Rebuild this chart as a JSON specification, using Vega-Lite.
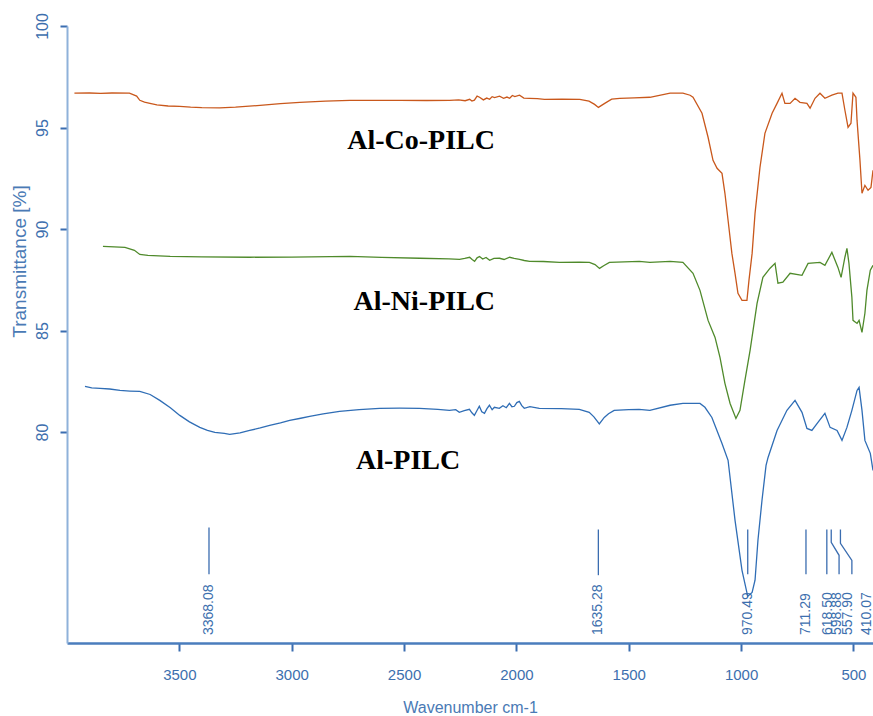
{
  "$schema": "https://vega.github.io/schema/vega-lite/v6.json",
  "width": 806,
  "height": 617,
  "autosize": "none",
  "padding": {"left": 67, "top": 26, "right": 0, "bottom": 73},
  "background": "white",
  "config": {"view": {"stroke": null}, "font": "Liberation Sans"},
  "datasets": {
    "spectra": [
      {"sample": "Al-Co-PILC", "wavenumber": 3967, "transmittance": 96.69},
      {"sample": "Al-Co-PILC", "wavenumber": 3900, "transmittance": 96.70},
      {"sample": "Al-Co-PILC", "wavenumber": 3850, "transmittance": 96.68},
      {"sample": "Al-Co-PILC", "wavenumber": 3800, "transmittance": 96.70},
      {"sample": "Al-Co-PILC", "wavenumber": 3722, "transmittance": 96.69},
      {"sample": "Al-Co-PILC", "wavenumber": 3690, "transmittance": 96.55},
      {"sample": "Al-Co-PILC", "wavenumber": 3676, "transmittance": 96.34},
      {"sample": "Al-Co-PILC", "wavenumber": 3655, "transmittance": 96.25},
      {"sample": "Al-Co-PILC", "wavenumber": 3631, "transmittance": 96.19},
      {"sample": "Al-Co-PILC", "wavenumber": 3600, "transmittance": 96.12},
      {"sample": "Al-Co-PILC", "wavenumber": 3550, "transmittance": 96.06},
      {"sample": "Al-Co-PILC", "wavenumber": 3498, "transmittance": 96.04},
      {"sample": "Al-Co-PILC", "wavenumber": 3450, "transmittance": 96.00},
      {"sample": "Al-Co-PILC", "wavenumber": 3400, "transmittance": 95.98},
      {"sample": "Al-Co-PILC", "wavenumber": 3320, "transmittance": 95.97},
      {"sample": "Al-Co-PILC", "wavenumber": 3250, "transmittance": 96.00},
      {"sample": "Al-Co-PILC", "wavenumber": 3141, "transmittance": 96.09},
      {"sample": "Al-Co-PILC", "wavenumber": 3050, "transmittance": 96.18},
      {"sample": "Al-Co-PILC", "wavenumber": 2964, "transmittance": 96.24},
      {"sample": "Al-Co-PILC", "wavenumber": 2850, "transmittance": 96.30},
      {"sample": "Al-Co-PILC", "wavenumber": 2741, "transmittance": 96.34},
      {"sample": "Al-Co-PILC", "wavenumber": 2650, "transmittance": 96.34},
      {"sample": "Al-Co-PILC", "wavenumber": 2519, "transmittance": 96.34},
      {"sample": "Al-Co-PILC", "wavenumber": 2400, "transmittance": 96.33},
      {"sample": "Al-Co-PILC", "wavenumber": 2297, "transmittance": 96.34},
      {"sample": "Al-Co-PILC", "wavenumber": 2257, "transmittance": 96.36},
      {"sample": "Al-Co-PILC", "wavenumber": 2228, "transmittance": 96.32},
      {"sample": "Al-Co-PILC", "wavenumber": 2208, "transmittance": 96.39},
      {"sample": "Al-Co-PILC", "wavenumber": 2198, "transmittance": 96.30},
      {"sample": "Al-Co-PILC", "wavenumber": 2187, "transmittance": 96.35},
      {"sample": "Al-Co-PILC", "wavenumber": 2175, "transmittance": 96.55},
      {"sample": "Al-Co-PILC", "wavenumber": 2164, "transmittance": 96.49},
      {"sample": "Al-Co-PILC", "wavenumber": 2147, "transmittance": 96.36},
      {"sample": "Al-Co-PILC", "wavenumber": 2132, "transmittance": 96.45},
      {"sample": "Al-Co-PILC", "wavenumber": 2119, "transmittance": 96.39},
      {"sample": "Al-Co-PILC", "wavenumber": 2108, "transmittance": 96.52},
      {"sample": "Al-Co-PILC", "wavenumber": 2097, "transmittance": 96.47},
      {"sample": "Al-Co-PILC", "wavenumber": 2075, "transmittance": 96.54},
      {"sample": "Al-Co-PILC", "wavenumber": 2057, "transmittance": 96.44},
      {"sample": "Al-Co-PILC", "wavenumber": 2042, "transmittance": 96.50},
      {"sample": "Al-Co-PILC", "wavenumber": 2030, "transmittance": 96.44},
      {"sample": "Al-Co-PILC", "wavenumber": 2018, "transmittance": 96.58},
      {"sample": "Al-Co-PILC", "wavenumber": 2007, "transmittance": 96.52},
      {"sample": "Al-Co-PILC", "wavenumber": 1986, "transmittance": 96.59},
      {"sample": "Al-Co-PILC", "wavenumber": 1967, "transmittance": 96.45},
      {"sample": "Al-Co-PILC", "wavenumber": 1941, "transmittance": 96.44},
      {"sample": "Al-Co-PILC", "wavenumber": 1907, "transmittance": 96.42},
      {"sample": "Al-Co-PILC", "wavenumber": 1875, "transmittance": 96.39},
      {"sample": "Al-Co-PILC", "wavenumber": 1797, "transmittance": 96.40},
      {"sample": "Al-Co-PILC", "wavenumber": 1718, "transmittance": 96.39},
      {"sample": "Al-Co-PILC", "wavenumber": 1677, "transmittance": 96.30},
      {"sample": "Al-Co-PILC", "wavenumber": 1652, "transmittance": 96.14},
      {"sample": "Al-Co-PILC", "wavenumber": 1635, "transmittance": 95.99},
      {"sample": "Al-Co-PILC", "wavenumber": 1607, "transmittance": 96.19},
      {"sample": "Al-Co-PILC", "wavenumber": 1576, "transmittance": 96.40},
      {"sample": "Al-Co-PILC", "wavenumber": 1540, "transmittance": 96.44},
      {"sample": "Al-Co-PILC", "wavenumber": 1476, "transmittance": 96.46},
      {"sample": "Al-Co-PILC", "wavenumber": 1406, "transmittance": 96.49},
      {"sample": "Al-Co-PILC", "wavenumber": 1316, "transmittance": 96.69},
      {"sample": "Al-Co-PILC", "wavenumber": 1259, "transmittance": 96.69},
      {"sample": "Al-Co-PILC", "wavenumber": 1227, "transmittance": 96.59},
      {"sample": "Al-Co-PILC", "wavenumber": 1214, "transmittance": 96.49},
      {"sample": "Al-Co-PILC", "wavenumber": 1174, "transmittance": 95.70},
      {"sample": "Al-Co-PILC", "wavenumber": 1147, "transmittance": 94.52},
      {"sample": "Al-Co-PILC", "wavenumber": 1125, "transmittance": 93.38},
      {"sample": "Al-Co-PILC", "wavenumber": 1107, "transmittance": 92.99},
      {"sample": "Al-Co-PILC", "wavenumber": 1085, "transmittance": 92.74},
      {"sample": "Al-Co-PILC", "wavenumber": 1072, "transmittance": 91.76},
      {"sample": "Al-Co-PILC", "wavenumber": 1058, "transmittance": 90.43},
      {"sample": "Al-Co-PILC", "wavenumber": 1041, "transmittance": 88.80},
      {"sample": "Al-Co-PILC", "wavenumber": 1027, "transmittance": 87.82},
      {"sample": "Al-Co-PILC", "wavenumber": 1014, "transmittance": 86.83},
      {"sample": "Al-Co-PILC", "wavenumber": 996, "transmittance": 86.49},
      {"sample": "Al-Co-PILC", "wavenumber": 974, "transmittance": 86.49},
      {"sample": "Al-Co-PILC", "wavenumber": 965, "transmittance": 87.47},
      {"sample": "Al-Co-PILC", "wavenumber": 951, "transmittance": 88.80},
      {"sample": "Al-Co-PILC", "wavenumber": 938, "transmittance": 90.77},
      {"sample": "Al-Co-PILC", "wavenumber": 916, "transmittance": 93.04},
      {"sample": "Al-Co-PILC", "wavenumber": 894, "transmittance": 94.71},
      {"sample": "Al-Co-PILC", "wavenumber": 862, "transmittance": 95.70},
      {"sample": "Al-Co-PILC", "wavenumber": 840, "transmittance": 96.19},
      {"sample": "Al-Co-PILC", "wavenumber": 818, "transmittance": 96.69},
      {"sample": "Al-Co-PILC", "wavenumber": 805, "transmittance": 96.19},
      {"sample": "Al-Co-PILC", "wavenumber": 782, "transmittance": 96.19},
      {"sample": "Al-Co-PILC", "wavenumber": 760, "transmittance": 96.44},
      {"sample": "Al-Co-PILC", "wavenumber": 738, "transmittance": 96.24},
      {"sample": "Al-Co-PILC", "wavenumber": 707, "transmittance": 96.19},
      {"sample": "Al-Co-PILC", "wavenumber": 693, "transmittance": 95.95},
      {"sample": "Al-Co-PILC", "wavenumber": 671, "transmittance": 96.44},
      {"sample": "Al-Co-PILC", "wavenumber": 649, "transmittance": 96.69},
      {"sample": "Al-Co-PILC", "wavenumber": 627, "transmittance": 96.44},
      {"sample": "Al-Co-PILC", "wavenumber": 596, "transmittance": 96.59},
      {"sample": "Al-Co-PILC", "wavenumber": 569, "transmittance": 96.69},
      {"sample": "Al-Co-PILC", "wavenumber": 551, "transmittance": 96.69},
      {"sample": "Al-Co-PILC", "wavenumber": 538, "transmittance": 95.85},
      {"sample": "Al-Co-PILC", "wavenumber": 524, "transmittance": 95.01},
      {"sample": "Al-Co-PILC", "wavenumber": 511, "transmittance": 95.21},
      {"sample": "Al-Co-PILC", "wavenumber": 502, "transmittance": 96.69},
      {"sample": "Al-Co-PILC", "wavenumber": 489, "transmittance": 96.49},
      {"sample": "Al-Co-PILC", "wavenumber": 484, "transmittance": 95.35},
      {"sample": "Al-Co-PILC", "wavenumber": 471, "transmittance": 93.38},
      {"sample": "Al-Co-PILC", "wavenumber": 462, "transmittance": 91.76},
      {"sample": "Al-Co-PILC", "wavenumber": 449, "transmittance": 92.15},
      {"sample": "Al-Co-PILC", "wavenumber": 435, "transmittance": 91.91},
      {"sample": "Al-Co-PILC", "wavenumber": 422, "transmittance": 92.05},
      {"sample": "Al-Co-PILC", "wavenumber": 413, "transmittance": 92.89},

      {"sample": "Al-Ni-PILC", "wavenumber": 3840, "transmittance": 89.15},
      {"sample": "Al-Ni-PILC", "wavenumber": 3790, "transmittance": 89.12},
      {"sample": "Al-Ni-PILC", "wavenumber": 3742, "transmittance": 89.10},
      {"sample": "Al-Ni-PILC", "wavenumber": 3700, "transmittance": 88.95},
      {"sample": "Al-Ni-PILC", "wavenumber": 3676, "transmittance": 88.75},
      {"sample": "Al-Ni-PILC", "wavenumber": 3640, "transmittance": 88.70},
      {"sample": "Al-Ni-PILC", "wavenumber": 3541, "transmittance": 88.65},
      {"sample": "Al-Ni-PILC", "wavenumber": 3400, "transmittance": 88.63},
      {"sample": "Al-Ni-PILC", "wavenumber": 3186, "transmittance": 88.61},
      {"sample": "Al-Ni-PILC", "wavenumber": 3000, "transmittance": 88.62},
      {"sample": "Al-Ni-PILC", "wavenumber": 2741, "transmittance": 88.65},
      {"sample": "Al-Ni-PILC", "wavenumber": 2600, "transmittance": 88.60},
      {"sample": "Al-Ni-PILC", "wavenumber": 2430, "transmittance": 88.56},
      {"sample": "Al-Ni-PILC", "wavenumber": 2300, "transmittance": 88.53},
      {"sample": "Al-Ni-PILC", "wavenumber": 2253, "transmittance": 88.51},
      {"sample": "Al-Ni-PILC", "wavenumber": 2230, "transmittance": 88.55},
      {"sample": "Al-Ni-PILC", "wavenumber": 2208, "transmittance": 88.61},
      {"sample": "Al-Ni-PILC", "wavenumber": 2197, "transmittance": 88.50},
      {"sample": "Al-Ni-PILC", "wavenumber": 2186, "transmittance": 88.41},
      {"sample": "Al-Ni-PILC", "wavenumber": 2175, "transmittance": 88.58},
      {"sample": "Al-Ni-PILC", "wavenumber": 2164, "transmittance": 88.65},
      {"sample": "Al-Ni-PILC", "wavenumber": 2150, "transmittance": 88.52},
      {"sample": "Al-Ni-PILC", "wavenumber": 2135, "transmittance": 88.60},
      {"sample": "Al-Ni-PILC", "wavenumber": 2119, "transmittance": 88.46},
      {"sample": "Al-Ni-PILC", "wavenumber": 2100, "transmittance": 88.55},
      {"sample": "Al-Ni-PILC", "wavenumber": 2075, "transmittance": 88.56},
      {"sample": "Al-Ni-PILC", "wavenumber": 2055, "transmittance": 88.50},
      {"sample": "Al-Ni-PILC", "wavenumber": 2030, "transmittance": 88.61},
      {"sample": "Al-Ni-PILC", "wavenumber": 2010, "transmittance": 88.55},
      {"sample": "Al-Ni-PILC", "wavenumber": 1986, "transmittance": 88.51},
      {"sample": "Al-Ni-PILC", "wavenumber": 1965, "transmittance": 88.45},
      {"sample": "Al-Ni-PILC", "wavenumber": 1941, "transmittance": 88.41},
      {"sample": "Al-Ni-PILC", "wavenumber": 1880, "transmittance": 88.40},
      {"sample": "Al-Ni-PILC", "wavenumber": 1808, "transmittance": 88.36},
      {"sample": "Al-Ni-PILC", "wavenumber": 1720, "transmittance": 88.37},
      {"sample": "Al-Ni-PILC", "wavenumber": 1675, "transmittance": 88.36},
      {"sample": "Al-Ni-PILC", "wavenumber": 1650, "transmittance": 88.25},
      {"sample": "Al-Ni-PILC", "wavenumber": 1630, "transmittance": 88.06},
      {"sample": "Al-Ni-PILC", "wavenumber": 1610, "transmittance": 88.20},
      {"sample": "Al-Ni-PILC", "wavenumber": 1586, "transmittance": 88.36},
      {"sample": "Al-Ni-PILC", "wavenumber": 1520, "transmittance": 88.38},
      {"sample": "Al-Ni-PILC", "wavenumber": 1453, "transmittance": 88.41},
      {"sample": "Al-Ni-PILC", "wavenumber": 1406, "transmittance": 88.36},
      {"sample": "Al-Ni-PILC", "wavenumber": 1316, "transmittance": 88.41},
      {"sample": "Al-Ni-PILC", "wavenumber": 1259, "transmittance": 88.36},
      {"sample": "Al-Ni-PILC", "wavenumber": 1214, "transmittance": 87.82},
      {"sample": "Al-Ni-PILC", "wavenumber": 1183, "transmittance": 86.98},
      {"sample": "Al-Ni-PILC", "wavenumber": 1147, "transmittance": 85.50},
      {"sample": "Al-Ni-PILC", "wavenumber": 1116, "transmittance": 84.66},
      {"sample": "Al-Ni-PILC", "wavenumber": 1094, "transmittance": 83.68},
      {"sample": "Al-Ni-PILC", "wavenumber": 1072, "transmittance": 82.40},
      {"sample": "Al-Ni-PILC", "wavenumber": 1049, "transmittance": 81.41},
      {"sample": "Al-Ni-PILC", "wavenumber": 1023, "transmittance": 80.67},
      {"sample": "Al-Ni-PILC", "wavenumber": 1005, "transmittance": 81.07},
      {"sample": "Al-Ni-PILC", "wavenumber": 983, "transmittance": 82.55},
      {"sample": "Al-Ni-PILC", "wavenumber": 960, "transmittance": 84.02},
      {"sample": "Al-Ni-PILC", "wavenumber": 929, "transmittance": 86.34},
      {"sample": "Al-Ni-PILC", "wavenumber": 903, "transmittance": 87.62},
      {"sample": "Al-Ni-PILC", "wavenumber": 871, "transmittance": 88.07},
      {"sample": "Al-Ni-PILC", "wavenumber": 849, "transmittance": 88.31},
      {"sample": "Al-Ni-PILC", "wavenumber": 836, "transmittance": 87.33},
      {"sample": "Al-Ni-PILC", "wavenumber": 814, "transmittance": 87.38},
      {"sample": "Al-Ni-PILC", "wavenumber": 782, "transmittance": 87.82},
      {"sample": "Al-Ni-PILC", "wavenumber": 729, "transmittance": 87.72},
      {"sample": "Al-Ni-PILC", "wavenumber": 702, "transmittance": 88.31},
      {"sample": "Al-Ni-PILC", "wavenumber": 649, "transmittance": 88.36},
      {"sample": "Al-Ni-PILC", "wavenumber": 627, "transmittance": 88.21},
      {"sample": "Al-Ni-PILC", "wavenumber": 596, "transmittance": 88.85},
      {"sample": "Al-Ni-PILC", "wavenumber": 569, "transmittance": 88.11},
      {"sample": "Al-Ni-PILC", "wavenumber": 555, "transmittance": 87.62},
      {"sample": "Al-Ni-PILC", "wavenumber": 538, "transmittance": 88.61},
      {"sample": "Al-Ni-PILC", "wavenumber": 529, "transmittance": 89.05},
      {"sample": "Al-Ni-PILC", "wavenumber": 520, "transmittance": 88.31},
      {"sample": "Al-Ni-PILC", "wavenumber": 507, "transmittance": 86.64},
      {"sample": "Al-Ni-PILC", "wavenumber": 502, "transmittance": 85.50},
      {"sample": "Al-Ni-PILC", "wavenumber": 484, "transmittance": 85.35},
      {"sample": "Al-Ni-PILC", "wavenumber": 475, "transmittance": 85.50},
      {"sample": "Al-Ni-PILC", "wavenumber": 462, "transmittance": 84.91},
      {"sample": "Al-Ni-PILC", "wavenumber": 449, "transmittance": 85.85},
      {"sample": "Al-Ni-PILC", "wavenumber": 440, "transmittance": 86.98},
      {"sample": "Al-Ni-PILC", "wavenumber": 425, "transmittance": 87.97},
      {"sample": "Al-Ni-PILC", "wavenumber": 413, "transmittance": 88.21},

      {"sample": "Al-PILC", "wavenumber": 3920, "transmittance": 82.25},
      {"sample": "Al-PILC", "wavenumber": 3890, "transmittance": 82.18},
      {"sample": "Al-PILC", "wavenumber": 3853, "transmittance": 82.15},
      {"sample": "Al-PILC", "wavenumber": 3810, "transmittance": 82.12},
      {"sample": "Al-PILC", "wavenumber": 3764, "transmittance": 82.05},
      {"sample": "Al-PILC", "wavenumber": 3720, "transmittance": 82.02},
      {"sample": "Al-PILC", "wavenumber": 3676, "transmittance": 82.00},
      {"sample": "Al-PILC", "wavenumber": 3630, "transmittance": 81.85},
      {"sample": "Al-PILC", "wavenumber": 3587, "transmittance": 81.56},
      {"sample": "Al-PILC", "wavenumber": 3540, "transmittance": 81.20},
      {"sample": "Al-PILC", "wavenumber": 3498, "transmittance": 80.82},
      {"sample": "Al-PILC", "wavenumber": 3455, "transmittance": 80.50},
      {"sample": "Al-PILC", "wavenumber": 3409, "transmittance": 80.23},
      {"sample": "Al-PILC", "wavenumber": 3375, "transmittance": 80.08},
      {"sample": "Al-PILC", "wavenumber": 3342, "transmittance": 79.98},
      {"sample": "Al-PILC", "wavenumber": 3300, "transmittance": 79.93},
      {"sample": "Al-PILC", "wavenumber": 3276, "transmittance": 79.89},
      {"sample": "Al-PILC", "wavenumber": 3230, "transmittance": 79.96},
      {"sample": "Al-PILC", "wavenumber": 3187, "transmittance": 80.08},
      {"sample": "Al-PILC", "wavenumber": 3140, "transmittance": 80.20},
      {"sample": "Al-PILC", "wavenumber": 3098, "transmittance": 80.33},
      {"sample": "Al-PILC", "wavenumber": 3050, "transmittance": 80.45},
      {"sample": "Al-PILC", "wavenumber": 3009, "transmittance": 80.58},
      {"sample": "Al-PILC", "wavenumber": 2960, "transmittance": 80.68},
      {"sample": "Al-PILC", "wavenumber": 2920, "transmittance": 80.77},
      {"sample": "Al-PILC", "wavenumber": 2860, "transmittance": 80.90},
      {"sample": "Al-PILC", "wavenumber": 2787, "transmittance": 81.02},
      {"sample": "Al-PILC", "wavenumber": 2700, "transmittance": 81.10},
      {"sample": "Al-PILC", "wavenumber": 2609, "transmittance": 81.17},
      {"sample": "Al-PILC", "wavenumber": 2520, "transmittance": 81.18},
      {"sample": "Al-PILC", "wavenumber": 2431, "transmittance": 81.17},
      {"sample": "Al-PILC", "wavenumber": 2350, "transmittance": 81.12},
      {"sample": "Al-PILC", "wavenumber": 2298, "transmittance": 81.07},
      {"sample": "Al-PILC", "wavenumber": 2270, "transmittance": 81.10},
      {"sample": "Al-PILC", "wavenumber": 2254, "transmittance": 80.97},
      {"sample": "Al-PILC", "wavenumber": 2232, "transmittance": 81.05},
      {"sample": "Al-PILC", "wavenumber": 2209, "transmittance": 81.12},
      {"sample": "Al-PILC", "wavenumber": 2198, "transmittance": 80.95},
      {"sample": "Al-PILC", "wavenumber": 2187, "transmittance": 80.82},
      {"sample": "Al-PILC", "wavenumber": 2176, "transmittance": 81.05},
      {"sample": "Al-PILC", "wavenumber": 2165, "transmittance": 81.27},
      {"sample": "Al-PILC", "wavenumber": 2154, "transmittance": 81.00},
      {"sample": "Al-PILC", "wavenumber": 2142, "transmittance": 80.92},
      {"sample": "Al-PILC", "wavenumber": 2131, "transmittance": 81.15},
      {"sample": "Al-PILC", "wavenumber": 2120, "transmittance": 81.32},
      {"sample": "Al-PILC", "wavenumber": 2108, "transmittance": 81.10},
      {"sample": "Al-PILC", "wavenumber": 2098, "transmittance": 81.22},
      {"sample": "Al-PILC", "wavenumber": 2076, "transmittance": 81.17},
      {"sample": "Al-PILC", "wavenumber": 2060, "transmittance": 81.30},
      {"sample": "Al-PILC", "wavenumber": 2045, "transmittance": 81.20},
      {"sample": "Al-PILC", "wavenumber": 2031, "transmittance": 81.41},
      {"sample": "Al-PILC", "wavenumber": 2020, "transmittance": 81.25},
      {"sample": "Al-PILC", "wavenumber": 2009, "transmittance": 81.27},
      {"sample": "Al-PILC", "wavenumber": 1998, "transmittance": 81.45},
      {"sample": "Al-PILC", "wavenumber": 1987, "transmittance": 81.51},
      {"sample": "Al-PILC", "wavenumber": 1976, "transmittance": 81.30},
      {"sample": "Al-PILC", "wavenumber": 1965, "transmittance": 81.17},
      {"sample": "Al-PILC", "wavenumber": 1940, "transmittance": 81.25},
      {"sample": "Al-PILC", "wavenumber": 1898, "transmittance": 81.17},
      {"sample": "Al-PILC", "wavenumber": 1800, "transmittance": 81.15},
      {"sample": "Al-PILC", "wavenumber": 1720, "transmittance": 81.12},
      {"sample": "Al-PILC", "wavenumber": 1676, "transmittance": 80.97},
      {"sample": "Al-PILC", "wavenumber": 1655, "transmittance": 80.75},
      {"sample": "Al-PILC", "wavenumber": 1631, "transmittance": 80.40},
      {"sample": "Al-PILC", "wavenumber": 1609, "transmittance": 80.72},
      {"sample": "Al-PILC", "wavenumber": 1590, "transmittance": 80.90},
      {"sample": "Al-PILC", "wavenumber": 1565, "transmittance": 81.07},
      {"sample": "Al-PILC", "wavenumber": 1500, "transmittance": 81.10},
      {"sample": "Al-PILC", "wavenumber": 1454, "transmittance": 81.12},
      {"sample": "Al-PILC", "wavenumber": 1406, "transmittance": 81.07},
      {"sample": "Al-PILC", "wavenumber": 1316, "transmittance": 81.32},
      {"sample": "Al-PILC", "wavenumber": 1259, "transmittance": 81.41},
      {"sample": "Al-PILC", "wavenumber": 1183, "transmittance": 81.41},
      {"sample": "Al-PILC", "wavenumber": 1161, "transmittance": 81.22},
      {"sample": "Al-PILC", "wavenumber": 1130, "transmittance": 80.72},
      {"sample": "Al-PILC", "wavenumber": 1085, "transmittance": 79.44},
      {"sample": "Al-PILC", "wavenumber": 1058, "transmittance": 78.61},
      {"sample": "Al-PILC", "wavenumber": 1027, "transmittance": 75.65},
      {"sample": "Al-PILC", "wavenumber": 996, "transmittance": 73.19},
      {"sample": "Al-PILC", "wavenumber": 970.49, "transmittance": 71.91},
      {"sample": "Al-PILC", "wavenumber": 951, "transmittance": 72.10},
      {"sample": "Al-PILC", "wavenumber": 938, "transmittance": 72.70},
      {"sample": "Al-PILC", "wavenumber": 925, "transmittance": 74.67},
      {"sample": "Al-PILC", "wavenumber": 907, "transmittance": 76.64},
      {"sample": "Al-PILC", "wavenumber": 889, "transmittance": 78.36},
      {"sample": "Al-PILC", "wavenumber": 880, "transmittance": 78.75},
      {"sample": "Al-PILC", "wavenumber": 840, "transmittance": 80.08},
      {"sample": "Al-PILC", "wavenumber": 796, "transmittance": 81.07},
      {"sample": "Al-PILC", "wavenumber": 760, "transmittance": 81.56},
      {"sample": "Al-PILC", "wavenumber": 729, "transmittance": 80.97},
      {"sample": "Al-PILC", "wavenumber": 707, "transmittance": 80.18},
      {"sample": "Al-PILC", "wavenumber": 685, "transmittance": 80.08},
      {"sample": "Al-PILC", "wavenumber": 658, "transmittance": 80.48},
      {"sample": "Al-PILC", "wavenumber": 627, "transmittance": 80.92},
      {"sample": "Al-PILC", "wavenumber": 604, "transmittance": 80.23},
      {"sample": "Al-PILC", "wavenumber": 573, "transmittance": 80.08},
      {"sample": "Al-PILC", "wavenumber": 551, "transmittance": 79.59},
      {"sample": "Al-PILC", "wavenumber": 529, "transmittance": 80.23},
      {"sample": "Al-PILC", "wavenumber": 507, "transmittance": 81.07},
      {"sample": "Al-PILC", "wavenumber": 484, "transmittance": 82.05},
      {"sample": "Al-PILC", "wavenumber": 475, "transmittance": 82.20},
      {"sample": "Al-PILC", "wavenumber": 462, "transmittance": 81.07},
      {"sample": "Al-PILC", "wavenumber": 449, "transmittance": 79.59},
      {"sample": "Al-PILC", "wavenumber": 425, "transmittance": 78.95},
      {"sample": "Al-PILC", "wavenumber": 413, "transmittance": 78.11}
    ],
    "leaders": [
      {"peak": "3368.08", "seq": 1, "wavenumber": 3368.08, "transmittance": 75.3},
      {"peak": "3368.08", "seq": 2, "wavenumber": 3368.08, "transmittance": 73.0},
      {"peak": "1635.28", "seq": 1, "wavenumber": 1635.28, "transmittance": 75.2},
      {"peak": "1635.28", "seq": 2, "wavenumber": 1635.28, "transmittance": 72.95},
      {"peak": "970.49", "seq": 1, "wavenumber": 970.49, "transmittance": 75.2},
      {"peak": "970.49", "seq": 2, "wavenumber": 970.49, "transmittance": 73.0},
      {"peak": "711.29", "seq": 1, "wavenumber": 711.29, "transmittance": 75.2},
      {"peak": "711.29", "seq": 2, "wavenumber": 711.29, "transmittance": 73.0},
      {"peak": "618.50", "seq": 1, "wavenumber": 618.5, "transmittance": 75.2},
      {"peak": "618.50", "seq": 2, "wavenumber": 618.5, "transmittance": 73.0},
      {"peak": "598.88", "seq": 1, "wavenumber": 598.88, "transmittance": 75.2},
      {"peak": "598.88", "seq": 2, "wavenumber": 598.88, "transmittance": 74.57},
      {"peak": "598.88", "seq": 3, "wavenumber": 564, "transmittance": 73.93},
      {"peak": "598.88", "seq": 4, "wavenumber": 564, "transmittance": 73.0},
      {"peak": "557.90", "seq": 1, "wavenumber": 557.9, "transmittance": 75.2},
      {"peak": "557.90", "seq": 2, "wavenumber": 557.9, "transmittance": 74.52},
      {"peak": "557.90", "seq": 3, "wavenumber": 507, "transmittance": 73.68},
      {"peak": "557.90", "seq": 4, "wavenumber": 507, "transmittance": 73.0},
      {"peak": "410.07", "seq": 1, "wavenumber": 410.07, "transmittance": 75.2},
      {"peak": "410.07", "seq": 2, "wavenumber": 410.07, "transmittance": 73.0}
    ],
    "peakLabels": [
      {"peak": "3368.08", "labelAt": 3368.08},
      {"peak": "1635.28", "labelAt": 1635.28},
      {"peak": "970.49", "labelAt": 968},
      {"peak": "711.29", "labelAt": 711.29},
      {"peak": "618.50", "labelAt": 614},
      {"peak": "598.88", "labelAt": 573},
      {"peak": "557.90", "labelAt": 524},
      {"peak": "410.07", "labelAt": 438}
    ],
    "sampleLabels": [
      {"sample": "Al-Co-PILC", "wavenumber": 2424, "transmittance": 93.93},
      {"sample": "Al-Ni-PILC", "wavenumber": 2410, "transmittance": 85.99},
      {"sample": "Al-PILC", "wavenumber": 2482, "transmittance": 78.16}
    ]
  },
  "layer": [
    {
      "data": {"name": "spectra"},
      "mark": {"type": "line", "strokeWidth": 1.3, "clip": true, "interpolate": "linear"},
      "encoding": {
        "x": {
          "field": "wavenumber", "type": "quantitative",
          "scale": {"domain": [4000, 413], "nice": false, "zero": false},
          "axis": {
            "values": [500, 1000, 1500, 2000, 2500, 3000, 3500],
            "format": "d",
            "grid": false,
            "tickSize": 8, "tickWidth": 2, "tickColor": "#3b6db0",
            "domainColor": "#4a7dbd", "domainWidth": 2.5,
            "labelFont": "Liberation Sans", "labelFontSize": 15, "labelColor": "#3d6fae",
            "labelPadding": 16,
            "title": "Wavenumber cm-1",
            "titleFont": "Liberation Sans", "titleFontSize": 16, "titleFontWeight": "normal",
            "titleColor": "#4a7ab5", "titleY": 69, "titleBaseline": "alphabetic"
          }
        },
        "y": {
          "field": "transmittance", "type": "quantitative",
          "scale": {"domain": [69.61, 100], "nice": false, "zero": false},
          "axis": {
            "values": [80, 85, 90, 95, 100],
            "grid": false,
            "tickSize": 7, "tickWidth": 2, "tickColor": "#3b6db0",
            "domainColor": "#8fb2da", "domainWidth": 2,
            "labelFont": "Liberation Sans", "labelFontSize": 16, "labelColor": "#3d6fae",
            "labelAngle": 270, "labelAlign": "center", "labelBaseline": "bottom", "labelPadding": 10,
            "title": "Transmittance [%]",
            "titleFont": "Liberation Sans", "titleFontSize": 19, "titleFontWeight": "normal",
            "titleColor": "#4a7ab5", "titleAngle": 270, "titleAlign": "center", "titleBaseline": "middle",
            "titleX": -48, "titleY": 235
          }
        },
        "color": {
          "field": "sample", "type": "nominal",
          "scale": {"domain": ["Al-Co-PILC", "Al-Ni-PILC", "Al-PILC"], "range": ["#c9581c", "#4f8a2b", "#2f6db5"]},
          "legend": null
        }
      }
    },
    {
      "mark": {"type": "rule", "color": "#4a7dbd", "strokeWidth": 2},
      "encoding": {"y": {"datum": 100}}
    },
    {
      "data": {"name": "leaders"},
      "mark": {"type": "line", "color": "#3b6db0", "strokeWidth": 1.3},
      "encoding": {
        "x": {"field": "wavenumber", "type": "quantitative"},
        "y": {"field": "transmittance", "type": "quantitative"},
        "detail": {"field": "peak"},
        "order": {"field": "seq", "type": "quantitative"}
      }
    },
    {
      "data": {"name": "peakLabels"},
      "mark": {"type": "text", "angle": 270, "align": "left", "baseline": "middle", "font": "Liberation Sans", "fontSize": 14, "color": "#3d6fae"},
      "encoding": {
        "x": {"field": "labelAt", "type": "quantitative"},
        "y": {"datum": 70.0},
        "text": {"field": "peak"}
      }
    },
    {
      "data": {"name": "sampleLabels"},
      "mark": {"type": "text", "align": "center", "baseline": "alphabetic", "font": "Liberation Serif", "fontWeight": "bold", "fontSize": 28, "color": "#000000"},
      "encoding": {
        "x": {"field": "wavenumber", "type": "quantitative"},
        "y": {"field": "transmittance", "type": "quantitative"},
        "text": {"field": "sample"}
      }
    }
  ]
}
